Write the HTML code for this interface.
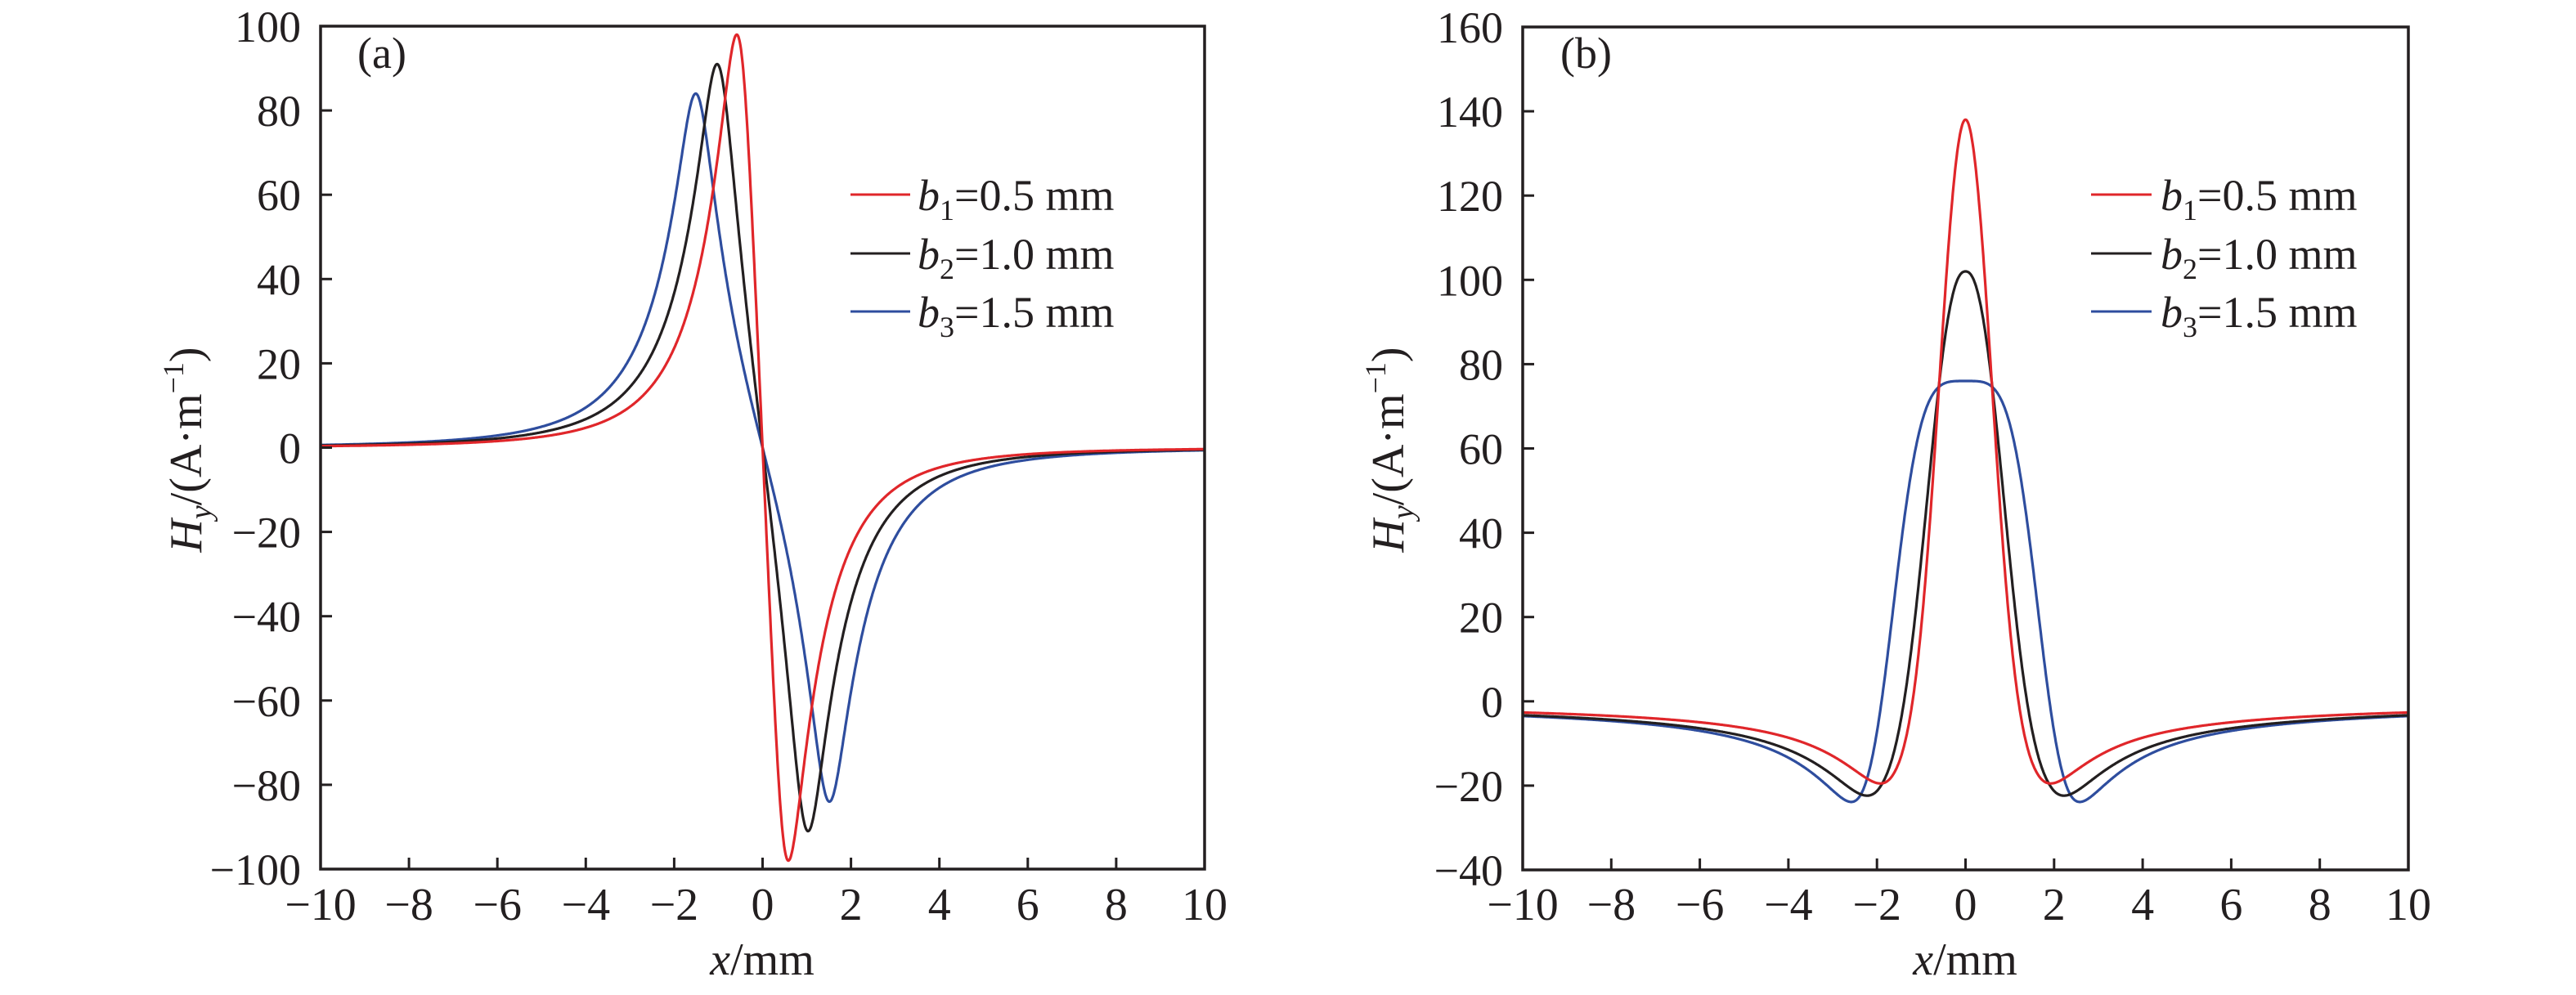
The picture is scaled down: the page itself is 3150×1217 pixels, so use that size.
<!DOCTYPE html>
<html><head><meta charset="utf-8">
<style>
html,body{margin:0;padding:0;background:#fff;}
svg{display:block;}
text{font-family:"Liberation Serif",serif;fill:#231f20;}
</style></head>
<body>
<svg id="s" width="3150" height="1217" viewBox="0 0 3150 1217" xmlns="http://www.w3.org/2000/svg">
<rect width="3150" height="1217" fill="#fff"/>
<g id="g"></g>
<text x="437" y="83" font-size="54">(a)</text>
<text x="1908" y="83" font-size="54">(b)</text>
<text x="932" y="1192" font-size="56" text-anchor="middle"><tspan font-style="italic">x</tspan>/mm</text>
<text x="2403" y="1192" font-size="56" text-anchor="middle"><tspan font-style="italic">x</tspan>/mm</text>
<text transform="translate(246,550) rotate(-90)" font-size="56" text-anchor="middle"><tspan font-style="italic">H</tspan><tspan font-style="italic" font-size="38" dy="12">y</tspan><tspan dy="-12">/(A·m</tspan><tspan font-size="36" dy="-22">−1</tspan><tspan dy="22">)</tspan></text>
<text transform="translate(1716,550) rotate(-90)" font-size="56" text-anchor="middle"><tspan font-style="italic">H</tspan><tspan font-style="italic" font-size="38" dy="12">y</tspan><tspan dy="-12">/(A·m</tspan><tspan font-size="36" dy="-22">−1</tspan><tspan dy="22">)</tspan></text>
<g font-size="54">
<line x1="1040" y1="238" x2="1113" y2="238" stroke="#e0262a" stroke-width="3"/>
<line x1="1040" y1="310" x2="1113" y2="310" stroke="#231f20" stroke-width="3"/>
<line x1="1040" y1="381" x2="1113" y2="381" stroke="#2e4d9e" stroke-width="3"/>
<text x="1122" y="257"><tspan font-style="italic">b</tspan><tspan font-size="36" dy="12">1</tspan><tspan dy="-12">=0.5 mm</tspan></text>
<text x="1122" y="329"><tspan font-style="italic">b</tspan><tspan font-size="36" dy="12">2</tspan><tspan dy="-12">=1.0 mm</tspan></text>
<text x="1122" y="400"><tspan font-style="italic">b</tspan><tspan font-size="36" dy="12">3</tspan><tspan dy="-12">=1.5 mm</tspan></text>
<line x1="2557" y1="238" x2="2631" y2="238" stroke="#e0262a" stroke-width="3"/>
<line x1="2557" y1="310" x2="2631" y2="310" stroke="#231f20" stroke-width="3"/>
<line x1="2557" y1="381" x2="2631" y2="381" stroke="#2e4d9e" stroke-width="3"/>
<text x="2642" y="257"><tspan font-style="italic">b</tspan><tspan font-size="36" dy="12">1</tspan><tspan dy="-12">=0.5 mm</tspan></text>
<text x="2642" y="329"><tspan font-style="italic">b</tspan><tspan font-size="36" dy="12">2</tspan><tspan dy="-12">=1.0 mm</tspan></text>
<text x="2642" y="400"><tspan font-style="italic">b</tspan><tspan font-size="36" dy="12">3</tspan><tspan dy="-12">=1.5 mm</tspan></text>
</g>
</svg>
<script>
(function(){
var NS="http://www.w3.org/2000/svg", g=document.getElementById("g");
function el(n,a,t){var e=document.createElementNS(NS,n);for(var k in a)e.setAttribute(k,a[k]);if(t!==undefined)e.textContent=t;g.appendChild(e);return e;}
var RED="#e0262a",BLK="#231f20",BLU="#2e4d9e";
function panel(L,R,T,B,ymin,ymax,curves){
  function X(x){return L+(x+10)/20*(R-L);}
  function Y(y){return B-(y-ymin)/(ymax-ymin)*(B-T);}
  curves.forEach(function(c){
    var d="",n=1600;
    for(var i=0;i<=n;i++){var x=-10+20*i/n;var y=c.f(x);d+=(i?"L":"M")+X(x).toFixed(1)+" "+Y(y).toFixed(1);}
    el("path",{d:d,fill:"none",stroke:c.col,"stroke-width":3.2,"stroke-linejoin":"round"});
  });
  el("path",{d:"M"+L+" "+T+"H"+R+"V"+B+"H"+L+"Z",fill:"none",stroke:BLK,"stroke-width":3.5});
  for(var v=-10;v<=10;v+=2){
    var x=X(v);
    if(v>-10&&v<10) el("line",{x1:x,y1:B,x2:x,y2:B-14,stroke:BLK,"stroke-width":3});
    el("text",{x:x,y:1125,"font-size":56,"text-anchor":"middle"},(v<0?"\u2212":"")+Math.abs(v));
  }
  for(var v=ymin;v<=ymax;v+=20){
    var y=Y(v);
    if(v>ymin&&v<ymax) el("line",{x1:L,y1:y,x2:L+14,y2:y,stroke:BLK,"stroke-width":3});
    el("text",{x:L-24,y:y+19,"font-size":54,"text-anchor":"end"},(v<0?"\u2212":"")+Math.abs(v));
  }
}
function mkA(b,P){
  var h=0.35,H=2.0;
  function raw(x){
    var t1=Math.log(((x+b)*(x+b)+h*h)/((x-b)*(x-b)+h*h));
    var t2=Math.log(((x+b)*(x+b)+H*H)/((x-b)*(x-b)+H*H));
    return -(t1-t2);
  }
  var m=0;for(var i=0;i<=4000;i++){var x=-10+20*i/4000;m=Math.max(m,raw(x));}
  return function(x){return raw(x)/m*P;};
}
panel(392,1473,32,1063,-100,100,[
  {col:BLU,f:mkA(1.5,84)},{col:BLK,f:mkA(1.0,91)},{col:RED,f:mkA(0.5,98)}
]);
function mkB(P,D,xm,s,w,q){
  return function(x){
    var a=Math.abs(x),neg;
    if(a>xm){var u=(a-xm)/s;neg=-D/Math.sqrt(1+u*u);} else neg=-D;
    var bump=Math.exp(-Math.LN2*Math.pow(a/w,q));
    return neg*(1-bump)+P*bump;
  };
}
panel(1862,2945,33,1064,-40,160,[
  {col:BLU,f:mkB(76,26,2.25,1.05,1.6,4)},
  {col:BLK,f:mkB(102,24,1.95,1.12,0.95,2.3)},
  {col:RED,f:mkB(138,21,1.65,1.06,0.7,2)}
]);
})();
</script>
</body></html>
